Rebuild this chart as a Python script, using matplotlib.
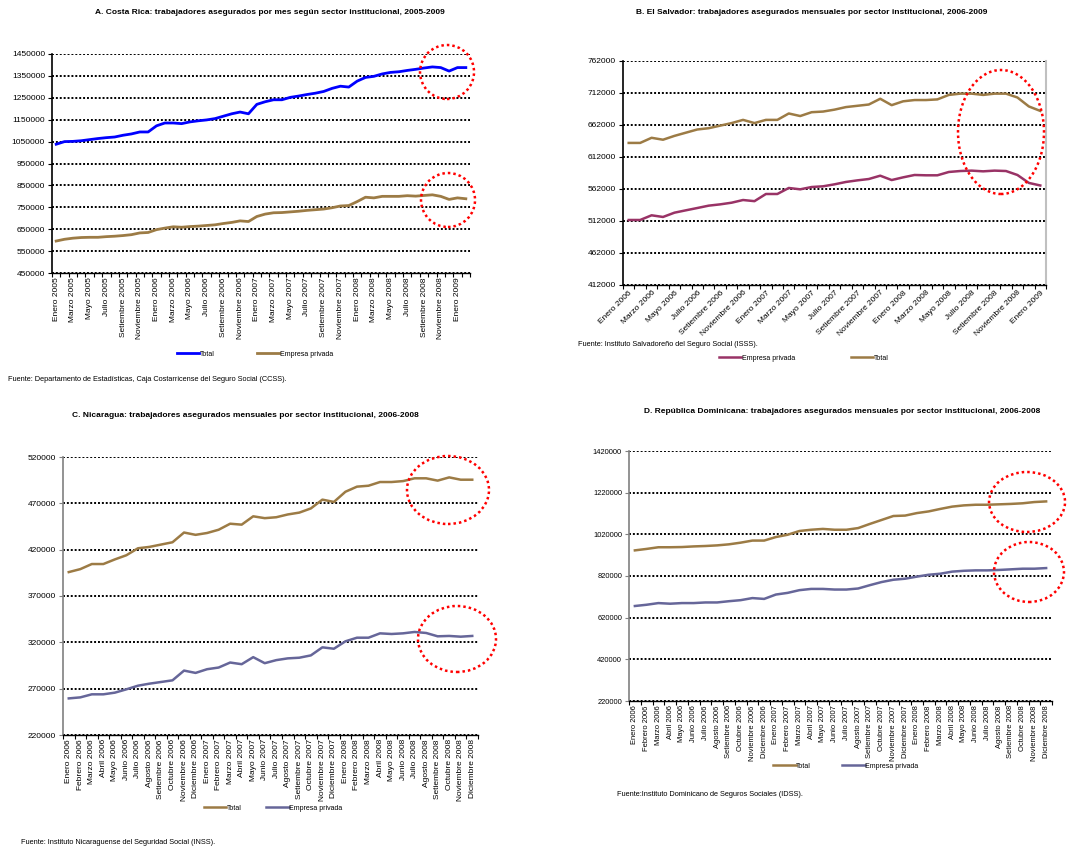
import numpy as np
import matplotlib
matplotlib.use("Agg")
import matplotlib.pyplot as plt
from matplotlib.patches import Ellipse

plt.rcParams['font.family'] = ['Liberation Sans', 'DejaVu Sans']

W, H = 1069, 850

MESES = ['Enero', 'Febrero', 'Marzo', 'Abril', 'Mayo', 'Junio', 'Julio',
         'Agosto', 'Setiembre', 'Octubre', 'Noviembre', 'Diciembre']

BROWN = '#9c7b45'
BLUE = '#0000ff'
MAGENTA = '#993366'
SLATE = '#666699'

# A. Costa Rica, Enero 2005 - Febrero 2009
cr_total = [1038000, 1050000, 1051000, 1054000, 1059000, 1064000, 1068000, 1071000, 1079000, 1085000,
            1094000, 1094000, 1122000, 1135000, 1135000, 1132000, 1140000, 1145000, 1149000, 1155000,
            1166000, 1177000, 1185000, 1177000, 1220000, 1232000, 1241000, 1241000, 1252000, 1258000,
            1265000, 1271000, 1279000, 1293000, 1303000, 1299000, 1326000, 1343000, 1348000, 1359000,
            1366000, 1369000, 1375000, 1380000, 1386000, 1391000, 1388000, 1372000, 1388000, 1388000]
cr_privada = [596000, 604000, 609000, 612000, 613000, 613000, 616000, 618000, 621000, 625000,
              633000, 635000, 648000, 655000, 661000, 659000, 662000, 664000, 667000, 670000,
              676000, 681000, 688000, 685000, 708000, 719000, 725000, 726000, 729000, 732000,
              736000, 739000, 742000, 748000, 756000, 758000, 776000, 796000, 793000, 800000,
              800000, 800000, 803000, 801000, 804000, 807000, 800000, 786000, 793000, 789000]

# B. El Salvador, Enero 2006 - Enero 2009
sv_total = [634000, 634000, 642000, 639000, 645000, 650000, 655000, 657000, 661000, 665000,
            670000, 665000, 670000, 670000, 680000, 676000, 682000, 683000, 686000, 690000,
            692000, 694000, 703000, 693000, 699000, 701000, 701000, 702000, 709000, 711000,
            711000, 709000, 711000, 711000, 705000, 691000, 684000]
sv_privada = [513600, 513600, 520900, 518300, 525000, 528700, 532300, 536000, 538000, 540600,
              544800, 543000, 554200, 554200, 563600, 561500, 565100, 566200, 569300, 573000,
              575500, 577600, 582800, 576000, 580200, 583900, 583400, 583400, 588600, 590100,
              590700, 589600, 590700, 590100, 583900, 571500, 567500]

# C. Nicaragua, Enero 2006 - Diciembre 2008
ni_total = [395800, 399000, 404500, 404500, 409500, 414000, 421500, 423000, 425500, 428000,
            438500, 436000, 438000, 441500, 448000, 447000, 456000, 454000, 455000, 458000,
            460000, 464500, 474000, 471500, 482500, 488000, 489000, 493000, 493000, 494000,
            497000, 497000, 494500, 498000, 495500, 495500]
ni_privada = [259500, 260600, 263900, 263900, 265700, 269300, 273200, 275400, 277200, 279000,
              289500, 287000, 291000, 292800, 298200, 296400, 304000, 297500, 300800, 302700,
              303400, 305900, 314600, 313100, 321100, 325000, 325000, 329700, 329000, 329700,
              331200, 330100, 326500, 326900, 326100, 326900]

# D. Republica Dominicana, Enero 2006 - Diciembre 2008
do_total = [943000, 950000, 958000, 958000, 959000, 962000, 964000, 967000, 972000, 980000,
            990000, 990000, 1007000, 1018000, 1036000, 1042000, 1046000, 1042000, 1042000, 1050000,
            1070000, 1089000, 1108000, 1110000, 1122000, 1130000, 1142000, 1153000, 1159000, 1162000,
            1162000, 1164000, 1166000, 1169000, 1175000, 1178000]
do_privada = [676000, 682000, 690000, 687000, 690000, 690000, 693000, 693000, 699000, 704000,
              714000, 710000, 731000, 739000, 752000, 758000, 758000, 755000, 755000, 760000,
              776000, 791000, 802000, 807000, 817000, 826000, 831000, 841000, 845000, 847000,
              847000, 849000, 852000, 855000, 855000, 858000]


def month_labels(year0, n):
    return [f'{MESES[i % 12]} {year0 + i // 12}' for i in range(n)]


def rect(l, t, r, b):
    return [l / W, 1 - b / H, (r - l) / W, (b - t) / H]


def panel(box, series, yticks, labels, step, rot, tick_fs, spine_col, right_col=None):
    ax = fig.add_axes(rect(*box))
    n = len(labels)
    x = np.arange(n)
    lines = []
    for vals, col, lw, name in series:
        ln, = ax.plot(x, vals, color=col, lw=lw, label=name, solid_joinstyle='round', zorder=3)
        lines.append(ln)
    ax.set_xlim(-0.5, n - 0.5)
    ax.set_ylim(yticks[0], yticks[-1])
    ax.set_yticks(yticks)
    ax.set_yticklabels([str(v) for v in yticks], fontsize=tick_fs)
    ax.set_xticks(x[::step])
    if rot == 45:
        ax.set_xticklabels(labels[::step], rotation=45, ha='right', rotation_mode='anchor', fontsize=tick_fs)
    else:
        ax.set_xticklabels(labels[::step], rotation=90, fontsize=tick_fs)
    ax.set_xticks(np.arange(n + 1) - 0.5, minor=True)
    ax.tick_params(axis='x', which='major', length=0, pad=3)
    ax.tick_params(axis='x', which='minor', length=3, width=0.8, direction='out')
    ax.tick_params(axis='y', length=3, width=0.8, pad=2)
    ax.yaxis.grid(True, color='black', lw=1.4, ls=(0, (1, 1)))
    ax.set_axisbelow(True)
    ax.spines['top'].set_visible(False)
    if right_col:
        ax.spines['right'].set_color(right_col)
        ax.spines['right'].set_linewidth(1.5)
    else:
        ax.spines['right'].set_visible(False)
    ax.spines['left'].set_color(spine_col)
    ax.spines['left'].set_linewidth(1.2)
    ax.spines['bottom'].set_linewidth(1.0)
    ax.tick_params(axis='y', colors=spine_col, labelcolor='black')
    return ax, lines


def ring(cx, cy, rx, ry):
    fig.patches.append(Ellipse((cx / W, 1 - cy / H), 2 * rx / W, 2 * ry / H, transform=fig.transFigure,
                               fill=False, ec='red', lw=1.8, ls=(0, (1, 1.2))))


def legend(lines, cx, cy, spacing):
    fig.legend(handles=lines, loc='center', bbox_to_anchor=(cx / W, 1 - cy / H), ncol=2, frameon=False,
               fontsize=5, handlelength=3.2, handletextpad=0.1, columnspacing=spacing)


fig = plt.figure(figsize=(W / 100, H / 100), dpi=100)

# A
axA, lA = panel((52, 54, 470, 273),
                [(cr_total, BLUE, 2.0, 'Total'), (cr_privada, BROWN, 2.0, 'Empresa privada')],
                list(range(450000, 1450001, 100000)), month_labels(2005, len(cr_total)), 2, 90, 6, 'black')
fig.text(270 / W, 1 - 13 / H, 'A. Costa Rica: trabajadores asegurados por mes según sector institucional, 2005-2009',
         ha='center', va='center', fontsize=6, fontweight='bold')
legend(lA, 255, 354, 6)
fig.text(8 / W, 1 - 380 / H, 'Fuente: Departamento de Estadísticas, Caja Costarricense del Seguro Social (CCSS).',
         ha='left', va='center', fontsize=5.3)
ring(447, 72, 27, 27)
ring(448, 200, 27, 27)

# B
axB, lB = panel((623, 61, 1046, 285),
                [(sv_privada, MAGENTA, 1.8, 'Empresa privada'), (sv_total, BROWN, 1.8, 'Total')],
                list(range(412000, 762001, 50000)), month_labels(2006, len(sv_total)), 2, 45, 6, 'black',
                right_col='#c0c0c0')
fig.text(812 / W, 1 - 13 / H, 'B. El Salvador: trabajadores asegurados mensuales por sector institucional, 2006-2009',
         ha='center', va='center', fontsize=6, fontweight='bold')
legend(lB, 804, 358, 8)
fig.text(578 / W, 1 - 344 / H, 'Fuente: Instituto Salvadoreño del Seguro Social (ISSS).',
         ha='left', va='center', fontsize=5.3)
ring(1001, 132, 43, 62)

# C
axC, lC = panel((63, 457, 478, 735),
                [(ni_total, BROWN, 1.8, 'Total'), (ni_privada, SLATE, 1.8, 'Empresa privada')],
                list(range(220000, 520001, 50000)), month_labels(2006, len(ni_total)), 1, 90, 6, '#808080')
fig.text(245 / W, 1 - 415 / H, 'C. Nicaragua: trabajadores asegurados mensuales por sector institucional, 2006-2008',
         ha='center', va='center', fontsize=6, fontweight='bold')
legend(lC, 273, 808, 3.6)
fig.text(21 / W, 1 - 843 / H, 'Fuente: Instituto Nicaraguense del Seguridad Social (INSS).',
         ha='left', va='center', fontsize=5.3)
ring(448, 490, 41, 34)
ring(457, 639, 39, 33)

# D
axD, lD = panel((629, 451, 1052, 701),
                [(do_total, BROWN, 1.8, 'Total'), (do_privada, SLATE, 1.8, 'Empresa privada')],
                list(range(220000, 1420001, 200000)), month_labels(2006, len(do_total)), 1, 90, 5.4, '#808080')
fig.text(842 / W, 1 - 412 / H, 'D. República Dominicana: trabajadores asegurados mensuales por sector institucional, 2006-2008',
         ha='center', va='center', fontsize=6, fontweight='bold')
legend(lD, 846, 766, 4.5)
fig.text(617 / W, 1 - 794 / H, 'Fuente:Instituto Dominicano de Seguros Sociales (IDSS).',
         ha='left', va='center', fontsize=5.3)
ring(1027, 502, 38, 30)
ring(1029, 572, 35, 30)

fig.savefig('out.png', dpi=100, facecolor='white')
